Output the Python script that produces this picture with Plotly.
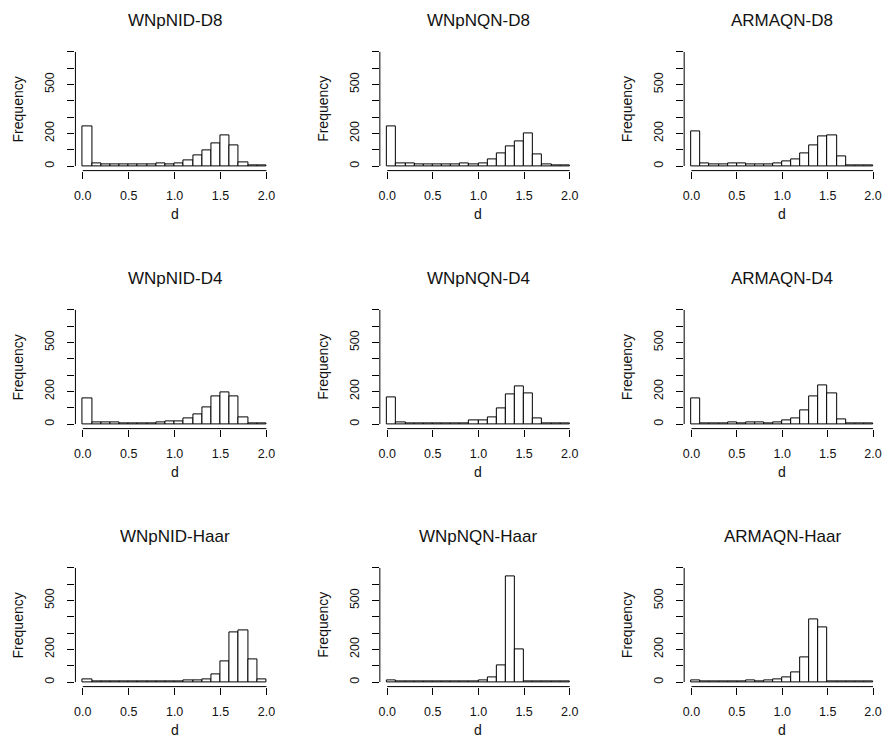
import plotly.graph_objects as go

# ---- data ----
bin_edges = [0.0, 0.1, 0.2, 0.3, 0.4, 0.5, 0.6, 0.7, 0.8, 0.9, 1.0,
             1.1, 1.2, 1.3, 1.4, 1.5, 1.6, 1.7, 1.8, 1.9, 2.0]

panel_titles = ["WNpNID-D8", "WNpNQN-D8", "ARMAQN-D8",
                "WNpNID-D4", "WNpNQN-D4", "ARMAQN-D4",
                "WNpNID-Haar", "WNpNQN-Haar", "ARMAQN-Haar"]

wnpnid_d8 = [241, 16, 12, 8, 8, 8, 12, 8, 16, 10, 16, 33, 66, 99, 138, 185, 125, 20, 4, 3]
wnpnqn_d8 = [241, 16, 14, 10, 8, 12, 12, 8, 18, 10, 16, 39, 76, 121, 150, 198, 74, 8, 2, 2]
armaqn_d8 = [212, 16, 12, 10, 18, 14, 12, 12, 8, 16, 27, 41, 80, 125, 181, 187, 58, 6, 2, 2]
wnpnid_d4 = [160, 10, 8, 8, 6, 6, 6, 4, 8, 16, 14, 33, 62, 103, 168, 197, 168, 43, 2, 2]
wnpnqn_d4 = [162, 10, 6, 6, 4, 4, 6, 4, 4, 20, 22, 43, 94, 179, 230, 185, 33, 2, 2, 2]
armaqn_d4 = [160, 6, 6, 6, 10, 6, 8, 10, 6, 12, 25, 37, 86, 172, 236, 185, 29, 2, 2, 2]
wnpnid_haar = [14, 2, 2, 2, 2, 2, 2, 4, 4, 6, 2, 8, 10, 18, 47, 127, 302, 316, 140, 14]
wnpnqn_haar = [12, 2, 2, 1, 1, 1, 2, 1, 2, 6, 8, 27, 101, 651, 201, 2, 1, 1, 1, 1]
armaqn_haar = [12, 6, 4, 2, 4, 6, 8, 6, 8, 14, 31, 57, 152, 384, 333, 1, 1, 1, 1, 1]

panel_counts = [wnpnid_d8, wnpnqn_d8, armaqn_d8,
                wnpnid_d4, wnpnqn_d4, armaqn_d4,
                wnpnid_haar, wnpnqn_haar, armaqn_haar]

x_tickvals = [0.0, 0.5, 1.0, 1.5, 2.0]
x_ticktext = ["0.0", "0.5", "1.0", "1.5", "2.0"]
y_tickvals = [0, 100, 200, 300, 400, 500, 600, 700]
y_ticktext = ["0", "", "200", "", "", "500", "", ""]

# ---- layout geometry (pixels) ----
W, H = 889, 737
cols = [(74.6, 273.4), (379.7, 577.3), (684.7, 881.3)]
rows = [(47.4, 170.6), (305.4, 428.6), (563.4, 686.6)]
FONT = "Liberation Sans, Arial, sans-serif"
TEXT = "#111111"

fig = go.Figure()
shapes = []
annotations = []
layout_axes = {}

for i in range(9):
    r, c = divmod(i, 3)
    n = "" if i == 0 else str(i + 1)
    xa, ya = "x" + n, "y" + n
    counts = panel_counts[i]
    fig.add_trace(go.Bar(
        x=bin_edges[:-1], y=counts,
        width=[bin_edges[k + 1] - bin_edges[k] for k in range(len(counts))],
        offset=0,
        marker=dict(color="white", line=dict(color="black", width=1)),
        xaxis=xa, yaxis=ya, showlegend=False, hoverinfo="skip",
    ))
    l, rr = cols[c]
    t, b = rows[r]
    layout_axes["xaxis" + n] = dict(
        domain=[l / W, rr / W], range=[-0.08, 2.08], anchor=ya,
        tickvals=x_tickvals, ticktext=x_ticktext, ticks="outside", ticklen=7,
        tickwidth=1, tickcolor="black", showline=False, showgrid=False,
        zeroline=False, tickfont=dict(family=FONT, size=12.5, color=TEXT),
        ticklabelstandoff=6, fixedrange=True,
    )
    layout_axes["yaxis" + n] = dict(
        domain=[1 - b / H, 1 - t / H], range=[-28, 728], anchor=xa,
        tickvals=y_tickvals, ticktext=y_ticktext, ticks="outside", ticklen=7,
        tickwidth=1, tickcolor="black", showline=False, showgrid=False,
        zeroline=False, tickangle=-90,
        tickfont=dict(family=FONT, size=12.5, color=TEXT),
        ticklabelstandoff=8, fixedrange=True,
    )
    shapes.append(dict(type="line", xref=xa, yref=ya + " domain",
                       x0=bin_edges[0], x1=bin_edges[-1], y0=0, y1=0,
                       line=dict(color="black", width=1)))
    shapes.append(dict(type="line", xref=xa + " domain", yref=ya,
                       x0=0, x1=0, y0=y_tickvals[0], y1=y_tickvals[-1],
                       line=dict(color="black", width=1)))
    annotations.append(dict(text=panel_titles[i], xref=xa + " domain", yref=ya + " domain",
                            x=0.5, y=1, yshift=27, showarrow=False,
                            xanchor="center", yanchor="middle",
                            font=dict(family=FONT, size=17, color=TEXT)))
    annotations.append(dict(text="d", xref=xa + " domain", yref=ya + " domain",
                            x=0.5, y=0, yshift=-43.5, showarrow=False,
                            xanchor="center", yanchor="middle",
                            font=dict(family=FONT, size=14, color=TEXT)))
    annotations.append(dict(text="Frequency", xref=xa + " domain", yref=ya + " domain",
                            x=0, y=0.5, xshift=-57, showarrow=False, textangle=-90,
                            xanchor="center", yanchor="middle",
                            font=dict(family=FONT, size=14, color=TEXT)))

fig.update_layout(
    width=W, height=H, margin=dict(l=0, r=0, t=0, b=0),
    paper_bgcolor="white", plot_bgcolor="white",
    bargap=0, shapes=shapes, annotations=annotations,
    **layout_axes,
)

fig.write_html("out.html", config={"displayModeBar": False},
               post_script="document.body.style.margin='0';")
